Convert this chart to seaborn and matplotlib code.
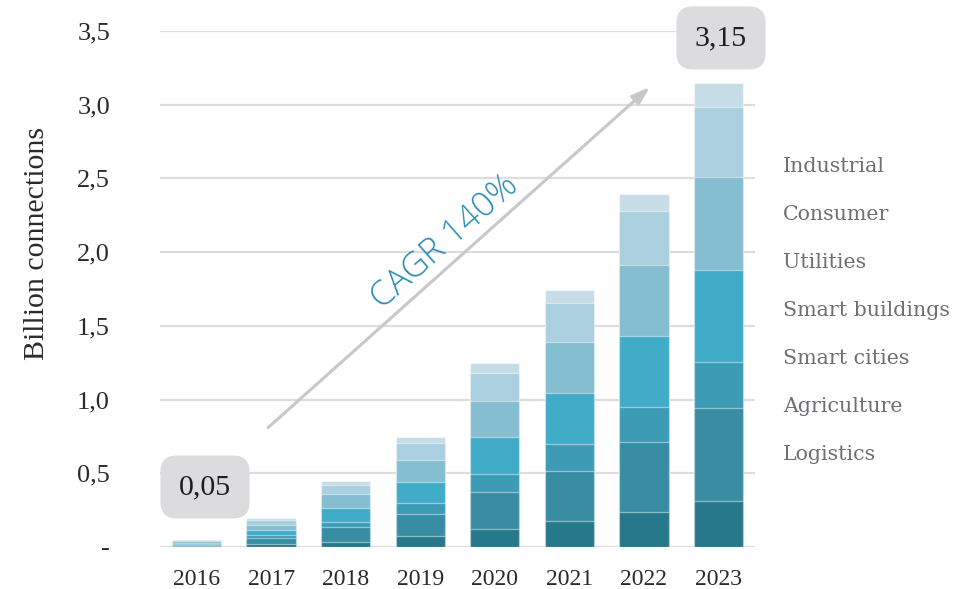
import matplotlib
matplotlib.use("Agg")
import matplotlib.pyplot as plt
import seaborn as sns
import numpy as np
import pandas as pd

years = ["2016", "2017", "2018", "2019", "2020", "2021", "2022", "2023"]
# segment values (billion connections), bottom to top
logistics       = [0.005, 0.020, 0.036, 0.073, 0.120, 0.174, 0.235, 0.312]
agriculture     = [0.010, 0.043, 0.098, 0.149, 0.253, 0.344, 0.479, 0.629]
smart_cities    = [0.005, 0.018, 0.038, 0.074, 0.120, 0.179, 0.238, 0.316]
smart_buildings = [0.010, 0.034, 0.095, 0.147, 0.251, 0.346, 0.482, 0.622]
utilities       = [0.010, 0.034, 0.090, 0.149, 0.249, 0.350, 0.479, 0.633]
consumer        = [0.007, 0.034, 0.066, 0.116, 0.190, 0.264, 0.366, 0.475]
industrial      = [0.003, 0.012, 0.025, 0.037, 0.063, 0.087, 0.115, 0.159]

series_names = ["Logistics", "Agriculture", "Smart cities", "Smart buildings",
                "Utilities", "Consumer", "Industrial"]
series_vals = [logistics, agriculture, smart_cities, smart_buildings,
               utilities, consumer, industrial]
colors = ["#27788a", "#398da3", "#3e9bb6", "#41acc8", "#85bdd1", "#aacfde", "#c6dde8"]

yticks = [0, 0.5, 1.0, 1.5, 2.0, 2.5, 3.0, 3.5]
ytick_labels = ["-", "0,5", "1,0", "1,5", "2,0", "2,5", "3,0", "3,5"]
first_label = "0,05"
last_label = "3,15"
cagr_text = "CAGR 140%"
ylabel = "Billion connections"

sns.set_theme(style="white")
plt.rcParams["font.family"] = ["Liberation Serif", "DejaVu Serif"]

fig = plt.figure(figsize=(9.64, 5.89), dpi=100)
ax = fig.add_axes([160/964, 1-547/589, (755-160)/964, (547-31)/589])

df = pd.DataFrame({name: vals for name, vals in zip(series_names, series_vals)})
cum = df[series_names].cumsum(axis=1)
cum["year"] = years

# draw from top (total) down
for name, col in reversed(list(zip(series_names, colors))):
    sns.barplot(data=cum, x="year", y=name, color=col, width=0.66, ax=ax,
                saturation=1, edgecolor=(1, 1, 1, 0.45), linewidth=0.9, zorder=3)

ax.set_xlim(-0.49, 7.49)
ax.set_ylim(0, 3.5)
ax.set_yticks(yticks)
ax.set_yticklabels(ytick_labels)
ax.set_xlabel("")
ax.set_ylabel("")
ax.grid(axis="y", color="#dddddd", linewidth=1.6, zorder=0)
ax.set_axisbelow(True)
for s in ax.spines.values():
    s.set_visible(False)
ax.tick_params(axis="y", length=0, pad=36, labelsize=19, labelcolor="#2a2a2a")
ax.tick_params(axis="x", length=0, pad=16, labelsize=17, labelcolor="#2a2a2a")
for lbl in ax.get_yticklabels():
    lbl.set_horizontalalignment("right")

# value boxes
box = dict(boxstyle="round,pad=0.62,rounding_size=0.55", fc="#dcdcde", ec="none")
ax.text(0.114, 0.407, first_label, ha="center", va="center", fontsize=21.5,
        color="#1e1e1e", zorder=6, clip_on=False, bbox=box)
ax.text(7.034, 3.453, last_label, ha="center", va="center", fontsize=21.5,
        color="#1e1e1e", zorder=6, clip_on=False, bbox=box)

# arrow
ax.annotate("", xy=(6.08, 3.12), xytext=(0.96, 0.81),
            arrowprops=dict(arrowstyle="-|>,head_length=0.9,head_width=0.3",
                            color="#c8c8c8", lw=2.2, shrinkA=0, shrinkB=0),
            zorder=5, annotation_clip=False)
ax.text(3.33, 2.07, cagr_text, rotation=41.5, rotation_mode="anchor",
        ha="center", va="center", fontsize=25, color="#2a8fb3",
        family=["Open Sans", "DejaVu Sans"], fontweight="light", zorder=6)

# legend labels
for i, name in enumerate(reversed(series_names)):
    fig.text(783/964, 1-(166 + 48*i)/589, name, ha="left", va="center",
             fontsize=14.8, color="#6e6e73", family=["DejaVu Serif"])

fig.text(37/964, 1-243/589, ylabel, rotation=90, ha="center", va="center",
         fontsize=21.5, color="#2a2a2a")

fig.savefig("out.png", dpi=100, facecolor="white")
